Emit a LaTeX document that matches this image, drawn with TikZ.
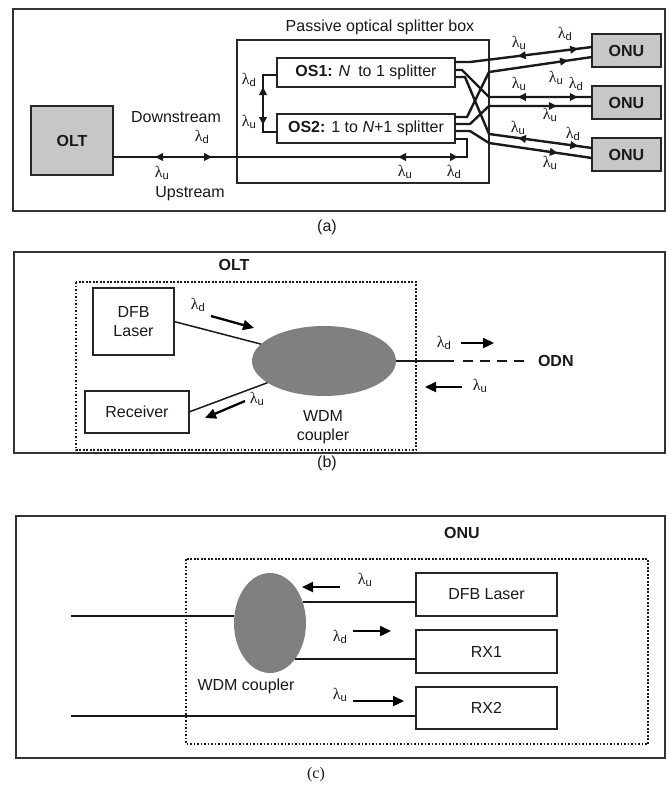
\documentclass[tikz,border=0pt]{standalone}
\usepackage{fontspec}
\setmainfont{Liberation Sans}
\newfontfamily\capserif{Liberation Serif}
\usetikzlibrary{arrows.meta,decorations.markings,shapes.geometric}

% wavelength labels
\newcommand{\lamd}{{\capserif λ}\textsubscript{d}}
\newcommand{\lamu}{{\capserif λ}\textsubscript{u}}

\tikzset{
  txt/.style={font=\fontsize{16}{19}\selectfont, inner sep=0pt, outer sep=0pt, text=black!90},
  boldtxt/.style={txt, font=\fontsize{16}{19}\selectfont\bfseries},
  frame/.style={draw=black!80, line width=2pt},
  box/.style={txt, draw=black!85, line width=1.3pt, rectangle},
  unit/.style={boldtxt, draw=black!85, line width=1.5pt, fill=black!22, rectangle},
  coupler/.style={ellipse, fill=black!50, inner sep=0pt, outer sep=0pt},
  dotbox/.style={draw=black!90, line width=2pt, dash pattern=on 1.8pt off 1.7pt},
  fib/.style={draw=black!90, line width=2.4pt},
  wire/.style={draw=black!90, line width=1.5pt},
  ftip/.tip={Triangle[length=8pt,width=7.5pt]},
  fa/.style={postaction={decorate,decoration={markings,mark=at position #1 with {\arrow{ftip}}}}},
  ra/.style={postaction={decorate,decoration={markings,mark=at position #1 with {\arrowreversed{ftip}}}}},
  bigarrow/.style={draw=black, line width=2.3pt, -{Triangle[length=11pt,width=10pt]}},
}

\begin{document}
\begin{tikzpicture}[x=1pt,y=-1pt]
\useasboundingbox (0,0) rectangle (666,788);

% ---------------- (a) network ----------------
\draw[frame] (13,9) rectangle (665,211);
\node[box, minimum width=252pt, minimum height=143pt] (spl) at (363,111.5) {};
\node[txt] (spltitle) at (380,27) {Passive optical splitter box};
\node[box, minimum width=178pt, minimum height=29pt] (os1) at (366,72.5)
  {\textbf{OS1:} \textit{N}\enspace to 1 splitter};
\node[box, minimum width=178pt, minimum height=29pt] (os2) at (366,128.5)
  {\textbf{OS2:} 1 to \textit{N}+1 splitter};

\node[unit, minimum width=82pt, minimum height=69pt] (olt) at (72,140.5) {OLT};
\node[unit, minimum width=69pt, minimum height=33pt] (onu1) at (626.5,50.5) {ONU};
\node[unit, minimum width=69pt, minimum height=33pt] (onu2) at (626.5,102.5) {ONU};
\node[unit, minimum width=69pt, minimum height=33pt] (onu3) at (626.5,154.5) {ONU};

% trunk fibre from the OLT into OS2
\coordinate (tap) at (467,157);
\draw[fib, ra=42pt, fa=99pt, ra=285pt, fa=345pt]
  (olt.east |- tap) -- (tap) |- (os2.east |- 0,139);
\node[txt] (down) at (176,117) {Downstream};
\node[txt] (up) at (190,194) {Upstream};
\node[txt] at (202,137) {\lamd};
\node[txt] at (162,173) {\lamu};
\node[txt] at (405,172) {\lamu};
\node[txt] at (454,172) {\lamd};

% loop between the two splitters
\draw[fib, ra=26pt, fa=64pt] (os1.west |- 0,75) -| (263,132) -- (os2.west |- 0,132);
\node[txt] at (249,80) {\lamd};
\node[txt] at (249,122) {\lamu};

% drop fibres to the ONUs
\draw[fib, ra=63pt, fa=124pt] (os1.east |- 0,62) -- (470,62) -- (onu1.west |- 0,47);
\draw[fib, fa=142pt] (os2.east |- 0,117) -- (467,117) -- (489,72) -- (onu1.west |- 0,57);
\draw[fib, ra=74pt, fa=134pt] (os1.east |- 0,70) -- (462,70) -- (489,97) -- (onu2.west |- 0,97);
\draw[fib, ra=101pt, fa=162pt] (os1.east |- 0,77) -- (465,77) -- (489,134) -- (onu3.west |- 0,148);
\draw[fib, fa=109pt] (os2.east |- 0,124) -- (470,124) -- (489,106) -- (onu2.west |- 0,106);
\draw[fib, fa=107pt] (os2.east |- 0,131) -- (470,131) -- (489,143) -- (onu3.west |- 0,158);

\node[txt] at (519,43) {\lamu};
\node[txt] at (565,34) {\lamd};
\node[txt] at (556,78) {\lamu};
\node[txt] at (576,84) {\lamd};
\node[txt] at (519,84) {\lamu};
\node[txt] at (550,115) {\lamu};
\node[txt] at (518,128) {\lamu};
\node[txt] at (573,134) {\lamd};
\node[txt] at (550,163) {\lamu};

\node[txt] (capa) at (327,227) {(a)};

% ---------------- (b) OLT ----------------
\draw[frame] (14,252) rectangle (665,453);
\node[boldtxt] (oltT) at (234,265) {OLT};
\draw[dotbox] (76,282) rectangle (416,450);
\node[box, minimum width=81pt, minimum height=67pt, align=center] (dfb) at (133.5,321.5) {DFB\\Laser};
\node[box, minimum width=104pt, minimum height=42pt] (rcv) at (137,412) {Receiver};
\node[coupler, minimum width=144pt, minimum height=70pt] (wdm) at (324,361) {};
\node[txt, align=center] (wdmT) at (323,427) {WDM\\coupler};
\draw[wire] (dfb.east) -- (wdm.165);
\draw[wire] (rcv.east) -- (wdm.201);
\coordinate (odnS) at (454,361);
\coordinate (odnD) at (463,361);
\node[boldtxt, anchor=west] (odn) at (538,361) {ODN};
\draw[wire] (wdm.east) -- (odnS);
\draw[wire, dash pattern=on 10pt off 7pt] (odnD) -- ([xshift=-7pt]odn.west);

\draw[bigarrow] (211,316) -- (254,328);
\node[txt] at (198,305) {\lamd};
\draw[bigarrow] (245,401) -- (205,418);
\node[txt] at (257,399) {\lamu};
\draw[bigarrow] (461,343) -- (494,343);
\node[txt] at (444,343) {\lamd};
\draw[bigarrow] (462,387) -- (425,387);
\node[txt] at (480,386) {\lamu};

\node[txt] (capb) at (327,463) {(b)};

% ---------------- (c) ONU ----------------
\draw[frame] (16,516) rectangle (665,758);
\node[boldtxt] (onuT) at (462,533) {ONU};
\draw[dotbox] (186,559) rectangle (648,744);
\node[coupler, minimum width=72pt, minimum height=100pt] (wdm2) at (270,623) {};
\node[txt] (wdm2T) at (246,686) {WDM coupler};
\node[box, minimum width=141pt, minimum height=43pt] (las2) at (486.5,594.5) {DFB Laser};
\node[box, minimum width=141pt, minimum height=43pt] (rx1) at (486.5,651.5) {RX1};
\node[box, minimum width=141pt, minimum height=42pt] (rx2) at (486.5,708) {RX2};
\coordinate (inA) at (71,616);
\coordinate (inB) at (71,716);
\draw[wire] (inA) -- (inA -| wdm2.west);
\draw[wire] (wdm2.33) -- (wdm2.33 -| las2.west);
\draw[wire] (wdm2.-55) -- (wdm2.-55 -| rx1.west);
\draw[wire] (inB) -- (inB -| rx2.west);

\draw[bigarrow] (340,587) -- (302,587);
\node[txt] at (365,580) {\lamu};
\draw[bigarrow] (353,631) -- (391,631);
\node[txt] at (340,637) {\lamd};
\draw[bigarrow] (353,701) -- (404,701);
\node[txt] at (340,695) {\lamu};

\node[txt, font=\capserif\fontsize{16}{19}\selectfont] (capc) at (316,775) {(c)};
\end{tikzpicture}
\end{document}
